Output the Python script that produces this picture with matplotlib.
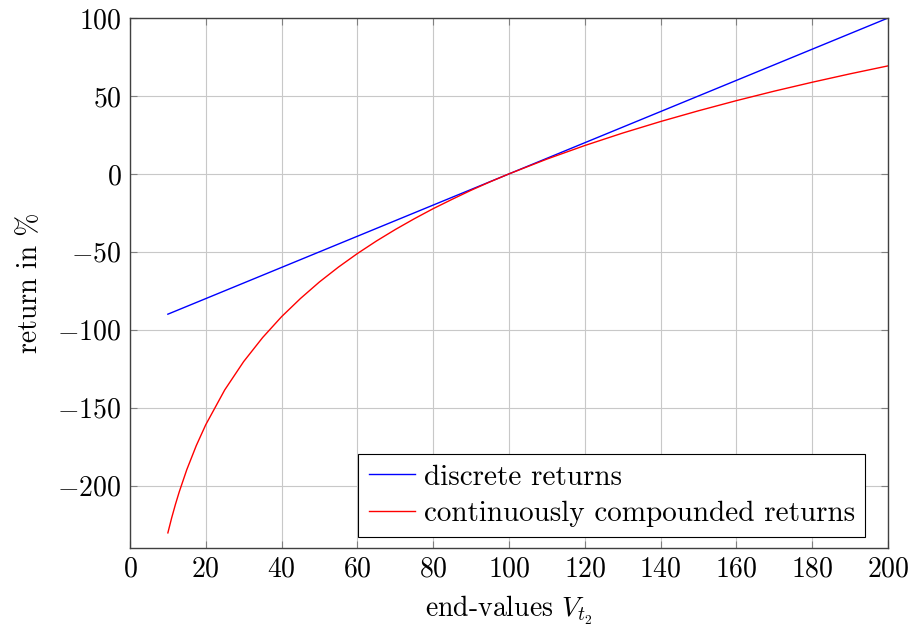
import matplotlib
matplotlib.use("Agg")
import matplotlib.pyplot as plt

plt.rcParams["font.family"] = "serif"
plt.rcParams["font.serif"] = ["cmr10"]
plt.rcParams["mathtext.fontset"] = "cm"
plt.rcParams["axes.formatter.use_mathtext"] = True
plt.rcParams["font.size"] = 20

# end-values V_t2 and read-off returns in %
end_values = [10, 11, 12, 13, 15, 17.5, 20, 25, 30, 35, 40, 45, 50, 55, 60, 65, 70, 75, 80,
              85, 90, 95, 100, 110, 120, 130, 140, 150, 160, 170, 180, 190, 200]
discrete_returns = [-90, -89, -88, -87, -85, -82.5, -80, -75, -70, -65, -60, -55, -50, -45,
                    -40, -35, -30, -25, -20, -15, -10, -5, 0, 10, 20, 30, 40, 50, 60, 70,
                    80, 90, 100]
continuous_returns = [-230.3, -220.7, -212.0, -204.0, -189.7, -174.3, -160.9, -138.6, -120.4,
                      -105.0, -91.6, -79.9, -69.3, -59.8, -51.1, -43.1, -35.7, -28.8, -22.3,
                      -16.3, -10.5, -5.1, 0, 9.5, 18.2, 26.2, 33.6, 40.5, 47.0, 53.1, 58.8,
                      64.2, 69.3]

fig = plt.figure(figsize=(9.12, 6.28), dpi=100)
ax = fig.add_axes([0.1425, 0.1274, 0.8312, 0.8439])

ax.plot(end_values, discrete_returns, color="blue", linewidth=1.0, label="discrete returns")
ax.plot(end_values, continuous_returns, color="red", linewidth=1.0,
        label="continuously compounded returns")

ax.set_xlim(0, 200)
ax.set_ylim(-240, 100)
ax.set_xticks(range(0, 201, 20))
ax.set_yticks([-200, -150, -100, -50, 0, 50, 100])
ax.grid(True, color="#c8c8c8", linewidth=0.8)
ax.set_axisbelow(True)
ax.tick_params(direction="in", top=True, right=True, length=5, width=0.8,
               color="#808080", pad=6)
for s in ax.spines.values():
    s.set_linewidth(1.0)
    s.set_color("#404040")

ax.set_xlabel(r"end-values $V_{t_2}$", labelpad=8)
ax.set_ylabel(r"return in %", labelpad=10)

leg = ax.legend(loc="lower right", bbox_to_anchor=(0.97, 0.02), borderaxespad=0,
                fancybox=False, framealpha=1, edgecolor="black", handlelength=1.6,
                handletextpad=0.3, labelspacing=0.35, borderpad=0.35, fontsize=21)
leg.get_frame().set_linewidth(0.8)

fig.savefig("out.png", dpi=100)
